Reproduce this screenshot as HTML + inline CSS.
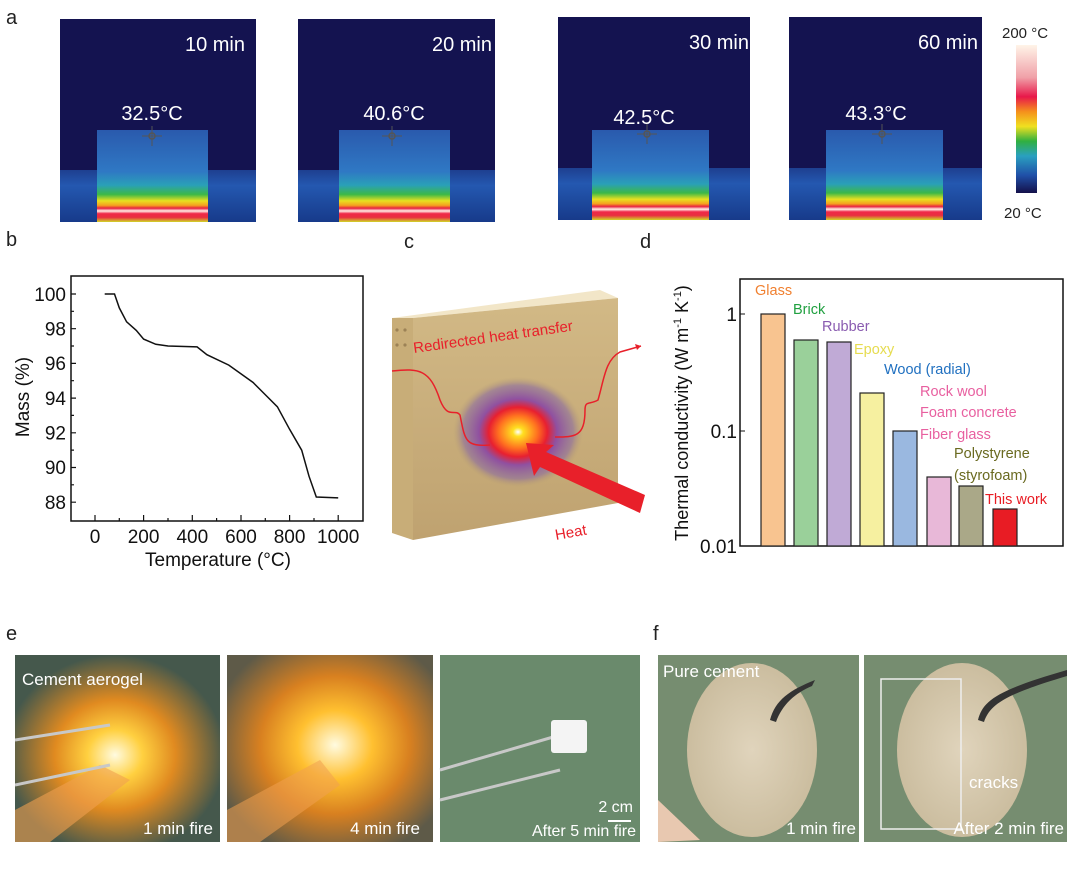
<!DOCTYPE html>
<html><head><meta charset="utf-8"><style>
html,body{margin:0;padding:0;background:#fff;}
svg{display:block;font-family:"Liberation Sans",sans-serif;}
</style></head><body>
<svg width="1080" height="869" viewBox="0 0 1080 869" xmlns="http://www.w3.org/2000/svg">
<defs>
<linearGradient id="blk" x1="0" y1="0" x2="0" y2="1">
<stop offset="0" stop-color="#2a5aad"/><stop offset="0.45" stop-color="#2f78c4"/>
<stop offset="0.6" stop-color="#2aa0b8"/><stop offset="0.7" stop-color="#3cb848"/>
<stop offset="0.77" stop-color="#e8e020"/><stop offset="0.82" stop-color="#f5a020"/>
<stop offset="0.85" stop-color="#e82040"/><stop offset="0.88" stop-color="#fff0e8"/>
<stop offset="0.91" stop-color="#f02848"/><stop offset="0.95" stop-color="#e83040"/>
<stop offset="1" stop-color="#d0d828"/></linearGradient>
<linearGradient id="gnd" x1="0" y1="0" x2="0" y2="1">
<stop offset="0" stop-color="#1e3f90"/><stop offset="0.3" stop-color="#2458b0"/><stop offset="1" stop-color="#173a8a"/></linearGradient>
<linearGradient id="cb" x1="0" y1="1" x2="0" y2="0">
<stop offset="0" stop-color="#14104a"/><stop offset="0.12" stop-color="#2050a8"/><stop offset="0.25" stop-color="#2aa0c0"/>
<stop offset="0.35" stop-color="#30b040"/><stop offset="0.45" stop-color="#f0e020"/><stop offset="0.55" stop-color="#f5901c"/>
<stop offset="0.65" stop-color="#e8184a"/><stop offset="0.78" stop-color="#f0a0a8"/><stop offset="1" stop-color="#fff4e8"/></linearGradient>
<radialGradient id="hot" cx="0.5" cy="0.5" r="0.5">
<stop offset="0" stop-color="#fff"/><stop offset="0.08" stop-color="#ffe020"/><stop offset="0.3" stop-color="#ff7020"/>
<stop offset="0.45" stop-color="#e82030"/><stop offset="0.6" stop-color="#9050a0"/><stop offset="0.85" stop-color="#8a6aa0" stop-opacity="0.6"/><stop offset="1" stop-color="#b09870" stop-opacity="0"/></radialGradient>
<linearGradient id="wood" x1="0" y1="0" x2="0" y2="1">
<stop offset="0" stop-color="#d2b986"/><stop offset="1" stop-color="#bfa270"/></linearGradient>
<radialGradient id="fire1" cx="0.5" cy="0.5" r="0.5">
<stop offset="0" stop-color="#fffbe0"/><stop offset="0.25" stop-color="#ffd040"/><stop offset="0.55" stop-color="#e08a20"/><stop offset="1" stop-color="#e08a20" stop-opacity="0"/></radialGradient>
<radialGradient id="fire2" cx="0.5" cy="0.5" r="0.5">
<stop offset="0" stop-color="#fffbe0"/><stop offset="0.3" stop-color="#ffc030"/><stop offset="0.6" stop-color="#d88020"/><stop offset="1" stop-color="#d88020" stop-opacity="0"/></radialGradient>
<radialGradient id="disk" cx="0.5" cy="0.5" r="0.5">
<stop offset="0" stop-color="#e0d4bc"/><stop offset="1" stop-color="#cbbd9f"/></radialGradient>
<clipPath id="c1"><rect x="15" y="655" width="205" height="187"/></clipPath>
<clipPath id="c2"><rect x="227" y="655" width="206" height="187"/></clipPath>
<clipPath id="c4"><rect x="658" y="655" width="201" height="187"/></clipPath>
<clipPath id="c5"><rect x="864" y="655" width="203" height="187"/></clipPath>
</defs>

<!-- panel a -->
<text x="6" y="24" font-size="20" fill="#222">a</text>
<g>
<rect x="60" y="19" width="196" height="203" fill="#141350"/>
<rect x="60" y="170" width="196" height="52" fill="url(#gnd)"/>
<rect x="97" y="130" width="111" height="92" fill="url(#blk)"/>
<text x="245" y="51" font-size="20" fill="#fff" text-anchor="end">10 min</text>
<text x="152" y="120" font-size="20" fill="#fff" text-anchor="middle">32.5°C</text>
<circle cx="152" cy="136" r="3" fill="none" stroke="#555" stroke-width="1.5"/>
<path d="M142 136h20M152 126v20" stroke="#555" stroke-width="1"/>
</g>
<g>
<rect x="298" y="19" width="197" height="203" fill="#141350"/>
<rect x="298" y="170" width="197" height="52" fill="url(#gnd)"/>
<rect x="339" y="130" width="111" height="92" fill="url(#blk)"/>
<text x="492" y="51" font-size="20" fill="#fff" text-anchor="end">20 min</text>
<text x="394" y="120" font-size="20" fill="#fff" text-anchor="middle">40.6°C</text>
<circle cx="392" cy="136" r="3" fill="none" stroke="#555" stroke-width="1.5"/>
<path d="M382 136h20M392 126v20" stroke="#555" stroke-width="1"/>
</g>
<g>
<rect x="558" y="17" width="192" height="203" fill="#141350"/>
<rect x="558" y="168" width="192" height="52" fill="url(#gnd)"/>
<rect x="592" y="130" width="117" height="90" fill="url(#blk)"/>
<text x="749" y="49" font-size="20" fill="#fff" text-anchor="end">30 min</text>
<text x="644" y="124" font-size="20" fill="#fff" text-anchor="middle">42.5°C</text>
<circle cx="647" cy="134" r="3" fill="none" stroke="#555" stroke-width="1.5"/>
<path d="M637 134h20M647 124v20" stroke="#555" stroke-width="1"/>
</g>
<g>
<rect x="789" y="17" width="193" height="203" fill="#141350"/>
<rect x="789" y="168" width="193" height="52" fill="url(#gnd)"/>
<rect x="826" y="130" width="117" height="90" fill="url(#blk)"/>
<text x="978" y="49" font-size="20" fill="#fff" text-anchor="end">60 min</text>
<text x="876" y="120" font-size="20" fill="#fff" text-anchor="middle">43.3°C</text>
<circle cx="882" cy="134" r="3" fill="none" stroke="#555" stroke-width="1.5"/>
<path d="M872 134h20M882 124v20" stroke="#555" stroke-width="1"/>
</g>
<rect x="1016" y="45" width="21" height="148" fill="url(#cb)"/>
<text x="1002" y="38" font-size="15" fill="#222">200 °C</text>
<text x="1004" y="218" font-size="15" fill="#222">20 °C</text>

<!-- panel b -->
<text x="6" y="246" font-size="20" fill="#222">b</text>
<rect x="71" y="276" width="292" height="245" fill="none" stroke="#111" stroke-width="1.5"/>
<g stroke="#111" stroke-width="1.2">
<path d="M95 521v-6M143.6 521v-6M192.3 521v-6M241 521v-6M289.6 521v-6M338.2 521v-6"/>
<path d="M119.3 521v-3M168 521v-3M216.6 521v-3M265.3 521v-3M314 521v-3"/>
<path d="M71 294h5M71 328.7h5M71 363.4h5M71 398.1h5M71 432.8h5M71 467.5h5M71 502.2h5"/>
<path d="M71 311.3h3M71 346h3M71 380.7h3M71 415.4h3M71 450.1h3M71 484.8h3"/>
</g>
<g font-size="19" fill="#111" text-anchor="end">
<text x="66" y="301">100</text><text x="66" y="335.5">98</text><text x="66" y="370">96</text>
<text x="66" y="405">94</text><text x="66" y="439.5">92</text><text x="66" y="474">90</text><text x="66" y="509">88</text>
</g>
<g font-size="19" fill="#111" text-anchor="middle">
<text x="95" y="543">0</text><text x="143.6" y="543">200</text><text x="192.3" y="543">400</text>
<text x="241" y="543">600</text><text x="289.6" y="543">800</text><text x="338.2" y="543">1000</text>
<text x="218" y="566">Temperature (°C)</text>
</g>
<text transform="translate(29,397) rotate(-90)" font-size="19" fill="#111" text-anchor="middle">Mass (%)</text>
<polyline fill="none" stroke="#111" stroke-width="1.5" points="104.7,294 114.5,294 119.3,307.9 126.6,321.8 136.3,330.4 143.6,339.1 155.8,344.3 168,346 197.1,346.9 206.9,354.7 228.8,365.1 253.1,382.5 265.2,394.6 277.4,406.8 289.6,429.3 301.7,450.2 309,476.2 316.3,497 338.2,497.9"/>

<!-- panel c -->
<text x="404" y="248" font-size="20" fill="#222">c</text>
<polygon points="392,318 413,318 413,540 392,533" fill="#c8ad78"/>
<g fill="#8a7048" opacity="0.7">
<circle cx="397" cy="330" r="1.6"/><circle cx="405" cy="330" r="1.6"/><circle cx="397" cy="345" r="1.6"/><circle cx="405" cy="345" r="1.6"/>
</g>
<path d="M392 318L600 290L618 298L413 318Z" fill="#f2e6c8"/>
<polygon points="413,318 618,298 618,503 413,540" fill="url(#wood)"/>
<ellipse cx="518" cy="432" rx="65" ry="55" fill="url(#hot)"/>
<text transform="translate(414,353) rotate(-8)" font-size="15" fill="#e8202a">Redirected heat transfer</text>
<path d="M392 371C420 368 430 370 440 400C448 420 455 408 460 415C465 440 465 447 490 445M555 437C575 437 585 437 585 410C585 400 590 405 598 400C604 380 605 360 620 352L641 346" fill="none" stroke="#e8202a" stroke-width="1.5"/>
<path d="M641 346l-6 -2l2 6z" fill="#e8202a"/>
<polygon points="526,443 554,445 546,452 645,495 640,513 540,467 534,476" fill="#e8202a"/>
<text transform="translate(556,540) rotate(-10)" font-size="15" fill="#e8202a">Heat</text>

<!-- panel d -->
<text x="640" y="248" font-size="20" fill="#222">d</text>
<rect x="740" y="279" width="323" height="267" fill="none" stroke="#111" stroke-width="1.5"/>
<g font-size="19" fill="#111" text-anchor="end">
<text x="737" y="321">1</text><text x="737" y="438">0.1</text><text x="737" y="553">0.01</text>
</g>
<path d="M740 314h5M740 431h5" stroke="#111"/>
<text transform="translate(688,413) rotate(-90)" font-size="18" fill="#111" text-anchor="middle">Thermal conductivity (W m<tspan font-size="11" dy="-7">-1</tspan><tspan dy="7"> K</tspan><tspan font-size="11" dy="-7">-1</tspan><tspan dy="7">)</tspan></text>
<g stroke="#222" stroke-width="1.2">
<rect x="761" y="314" width="24" height="232" fill="#f8c490"/>
<rect x="794" y="340" width="24" height="206" fill="#9ad09a"/>
<rect x="827" y="342" width="24" height="204" fill="#c0aad6"/>
<rect x="860" y="393" width="24" height="153" fill="#f6f0a0"/>
<rect x="893" y="431" width="24" height="115" fill="#9ab8e0"/>
<rect x="927" y="477" width="24" height="69" fill="#e8b8d8"/>
<rect x="959" y="486" width="24" height="60" fill="#aaa888"/>
<rect x="993" y="509" width="24" height="37" fill="#e81c24"/>
</g>
<g font-size="14.5">
<text x="755" y="295" fill="#f08030">Glass</text>
<text x="793" y="314" fill="#20a040">Brick</text>
<text x="822" y="331" fill="#8a5cb0">Rubber</text>
<text x="854" y="354" fill="#e6dc50">Epoxy</text>
<text x="884" y="374" fill="#2070c0">Wood (radial)</text>
<text x="920" y="396" fill="#e860a0">Rock wool</text>
<text x="920" y="417" fill="#e860a0">Foam concrete</text>
<text x="920" y="439" fill="#e860a0">Fiber glass</text>
<text x="954" y="458" fill="#6a6a20">Polystyrene</text>
<text x="954" y="480" fill="#6a6a20">(styrofoam)</text>
<text x="985" y="504" fill="#e81c24">This work</text>
</g>

<!-- panel e -->
<text x="6" y="640" font-size="20" fill="#222">e</text>
<g clip-path="url(#c1)">
<rect x="15" y="655" width="205" height="187" fill="#45584c"/>
<ellipse cx="115" cy="755" rx="110" ry="100" fill="url(#fire1)"/>
<path d="M15 842L15 810L100 765L130 780L50 842Z" fill="#f0a050" opacity="0.6"/>
<path d="M15 740L110 725M15 785L110 765" stroke="#c8c8c8" stroke-width="3"/>
</g>
<text x="22" y="685" font-size="17" fill="#fff">Cement aerogel</text>
<text x="213" y="834" font-size="17" fill="#fff" text-anchor="end">1 min fire</text>
<g clip-path="url(#c2)">
<rect x="227" y="655" width="206" height="187" fill="#5e5a48"/>
<ellipse cx="335" cy="745" rx="125" ry="115" fill="url(#fire2)"/>
<path d="M227 810L320 760L340 785L260 842L227 842Z" fill="#f0a050" opacity="0.55"/>
</g>
<text x="420" y="834" font-size="17" fill="#fff" text-anchor="end">4 min fire</text>
<rect x="440" y="655" width="200" height="187" fill="#6a8a6c"/>
<path d="M440 770L560 735M440 800L560 770" stroke="#c8c8c8" stroke-width="3"/>
<rect x="551" y="720" width="36" height="33" rx="3" fill="#f4f4f4"/>
<text x="633" y="812" font-size="16" fill="#fff" text-anchor="end">2 cm</text>
<rect x="608" y="820" width="23" height="2" fill="#fff"/>
<text x="636" y="836" font-size="16" fill="#fff" text-anchor="end">After 5 min fire</text>

<!-- panel f -->
<text x="653" y="640" font-size="20" fill="#222">f</text>
<g clip-path="url(#c4)">
<rect x="658" y="655" width="201" height="187" fill="#768d70"/>
<ellipse cx="752" cy="750" rx="65" ry="87" fill="url(#disk)"/>
<path d="M658 800L700 840L658 842Z" fill="#e8c8b0"/>
<path d="M770 720C775 700 790 690 815 680L812 686C795 693 782 705 776 722Z" fill="#333"/>
</g>
<text x="663" y="677" font-size="17" fill="#fff">Pure cement</text>
<text x="856" y="834" font-size="17" fill="#fff" text-anchor="end">1 min fire</text>
<g clip-path="url(#c5)">
<rect x="864" y="655" width="203" height="187" fill="#768d70"/>
<ellipse cx="962" cy="750" rx="65" ry="87" fill="url(#disk)"/>
<path d="M978 720C983 700 998 690 1067 670L1067 676C1003 695 990 705 984 722Z" fill="#333"/>
</g>
<rect x="881" y="679" width="80" height="150" fill="none" stroke="#eee" stroke-width="1.5"/>
<text x="969" y="788" font-size="17" fill="#fff">cracks</text>
<text x="1064" y="834" font-size="17" fill="#fff" text-anchor="end">After 2 min fire</text>
</svg>
</body></html>
